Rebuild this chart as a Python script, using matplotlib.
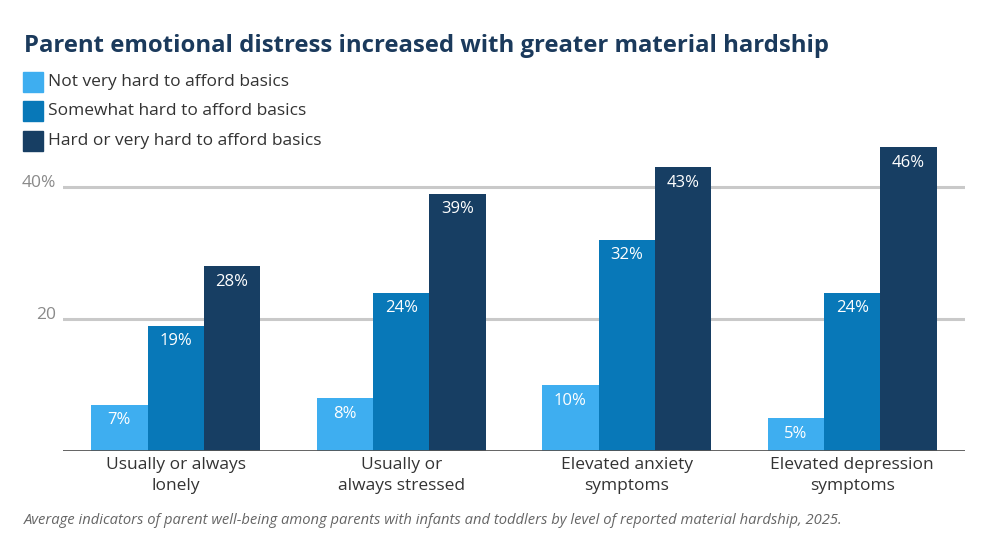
import matplotlib
matplotlib.use("Agg")
import matplotlib.pyplot as plt
import numpy as np

categories = ["Usually or always\nlonely", "Usually or\nalways stressed",
              "Elevated anxiety\nsymptoms", "Elevated depression\nsymptoms"]
series_names = ["Not very hard to afford basics",
                "Somewhat hard to afford basics",
                "Hard or very hard to afford basics"]
not_very_hard = [7, 8, 10, 5]
somewhat_hard = [19, 24, 32, 24]
very_hard = [28, 39, 43, 46]
yticks = [20, 40]
ytick_labels = ["20", "40%"]

colors = ["#3eaef0", "#0878b8", "#173e63"]
FONT = "Open Sans"
plt.rcParams["font.family"] = [FONT, "DejaVu Sans"]

fig = plt.figure(figsize=(10, 5.38), dpi=100)
scale = 6.6
ax = fig.add_axes([0.063, (538 - 451) / 538, 0.902, 50 * scale / 538])

x = np.arange(len(categories))
w = 0.25
all_series = [not_very_hard, somewhat_hard, very_hard]
for i, (vals, c) in enumerate(zip(all_series, colors)):
    xs = x + (i - 1) * w
    ax.bar(xs, vals, width=w, color=c, zorder=3, linewidth=0)
    for xi, v in zip(xs, vals):
        ax.annotate(f"{v}%", (xi, v), xytext=(0, -5.5), textcoords="offset points",
                    ha="center", va="top", color="white", fontsize=12, zorder=4)

ax.set_xlim(-0.5, 3.5)
ax.set_ylim(0, 50)
for t in yticks:
    ax.axhline(t, color="#c9c9c9", linewidth=2.2, zorder=1)
ax.axhline(0, color="#555555", linewidth=2, zorder=5)
ax.set_yticks(yticks)
ax.set_yticklabels(ytick_labels, color="#8a8a8a", fontsize=12.5)
ax.tick_params(axis="y", length=0, pad=5)
ax.set_xticks(x)
ax.set_xticklabels(categories, fontsize=12.5, color="#333333", linespacing=1.45)
ax.tick_params(axis="x", length=0, pad=4)
for s in ax.spines.values():
    s.set_visible(False)
for lbl in ax.get_yticklabels():
    lbl.set_verticalalignment("baseline")

fig.text(0.024, 1 - 52 / 538, "Parent emotional distress increased with greater material hardship",
         fontsize=17.2, fontweight="bold", color="#1b3a5c", va="baseline")

leg_y = [82, 111, 141]
for name, c, yy in zip(series_names, colors, leg_y):
    fig.patches.append(matplotlib.patches.Rectangle((23 / 1000, 1 - (yy + 10) / 538), 20 / 1000, 20 / 538,
                                                    transform=fig.transFigure, color=c, figure=fig))
    fig.text(48 / 1000, 1 - yy / 538, name, fontsize=12.5, color="#333333", va="center")

fig.text(0.024, 1 - 520 / 538,
         "Average indicators of parent well-being among parents with infants and toddlers by level of reported material hardship, 2025.",
         fontsize=10.6, style="italic", color="#666666", va="center")

fig.savefig("out.png", dpi=100, facecolor="white")
